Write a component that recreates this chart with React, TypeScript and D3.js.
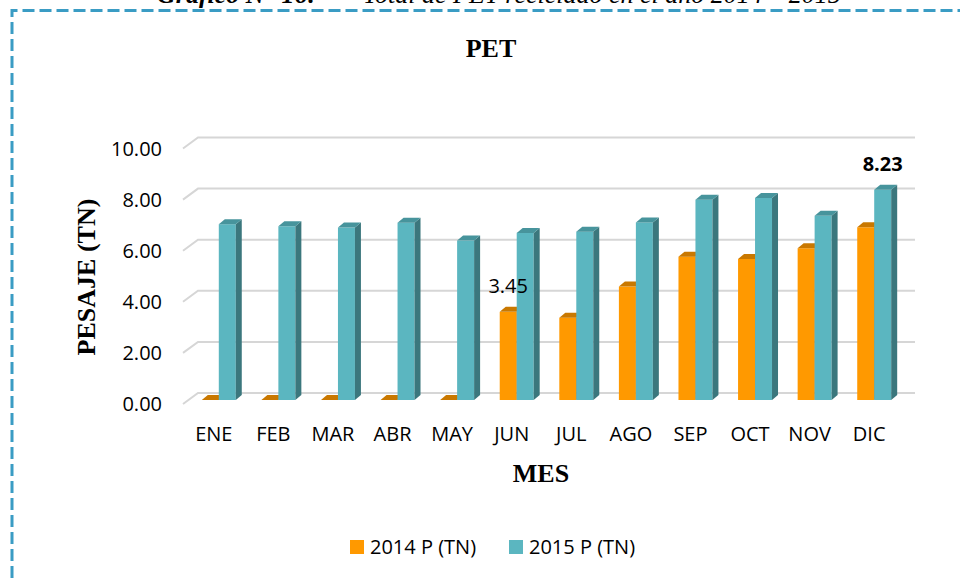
import React, { useEffect, useRef } from "react";
import * as d3 from "d3";

const WIDTH = 960;
const HEIGHT = 578;

const MONTHS = ["ENE", "FEB", "MAR", "ABR", "MAY", "JUN", "JUL", "AGO", "SEP", "OCT", "NOV", "DIC"];
const VALUES_2014 = [0, 0, 0, 0, 0, 3.45, 3.22, 4.44, 5.61, 5.52, 5.94, 6.76];
const VALUES_2015 = [6.88, 6.8, 6.75, 6.94, 6.24, 6.54, 6.59, 6.95, 7.84, 7.91, 7.21, 8.23];
const SERIES = ["2014 P (TN)", "2015 P (TN)"];
const Y_TICKS = [0, 2, 4, 6, 8, 10];
// data labels shown in the chart: series index + month
const LABELLED = [
  { series: 0, month: "JUN", bold: false },
  { series: 1, month: "DIC", bold: true },
];

const COLORS = [
  { front: "#ff9900", top: "#c97800", side: "#b06a00" },
  { front: "#5bb6c0", top: "#47949c", side: "#3b777d" },
];
const SANS = "'Open Sans', sans-serif";
const SERIF = "'Liberation Serif', 'Times New Roman', serif";

// 3d offsets
const BAR_DX = 6;
const BAR_DY = 5;
const WALL_DX = 15;
const WALL_DY = 11;
const WALL_BACK = 7; // back wall sits this far above the bar front plane

const App = () => {
  const svgRef = useRef<SVGSVGElement>(null);

  useEffect(() => {
    const svg = d3.select(svgRef.current);
    svg.selectAll("*").remove();

    const seriesValues = [VALUES_2014, VALUES_2015];

    const x = d3.scaleBand().domain(MONTHS).range([189, 904]).paddingInner(0.43).paddingOuter(0.215);
    const xs = d3.scaleBand().domain(["0", "1"]).range([0, x.bandwidth()]);
    const y = d3.scaleLinear().domain([0, 10]).range([400, 144.5]);

    // dashed frame
    svg
      .append("path")
      .attr("d", `M12,${HEIGHT} L12,10.5 L${WIDTH},10.5`)
      .attr("fill", "none")
      .attr("stroke", "#3a9cc4")
      .attr("stroke-width", 3)
      .attr("stroke-dasharray", "12 5");

    // caption (cut at top, as in the document page)
    const cap = svg.append("text").attr("y", 3).attr("font-family", SERIF).attr("font-size", 26).attr("font-style", "italic");
    cap.append("tspan").attr("x", 157).attr("font-weight", "bold").text("Gráfico N° 16:");
    cap.append("tspan").attr("x", 363).text("Total de PET reciclado en el año 2014 – 2015");

    svg
      .append("text")
      .attr("x", 491)
      .attr("y", 57)
      .attr("text-anchor", "middle")
      .attr("font-family", SERIF)
      .attr("font-weight", "bold")
      .attr("font-size", 26)
      .text("PET");

    // gridlines on back wall with slanted side segment
    const xLeft = 183;
    const xRight = 915;
    svg
      .append("g")
      .selectAll("path")
      .data(Y_TICKS)
      .join("path")
      .attr("d", (d) => {
        const yb = y(d) - WALL_BACK;
        return `M${xLeft},${yb + WALL_DY} L${xLeft + WALL_DX},${yb} L${xRight},${yb}`;
      })
      .attr("fill", "none")
      .attr("stroke", "#d6d6d6")
      .attr("stroke-width", 2);

    // y tick labels
    svg
      .append("g")
      .selectAll("text")
      .data(Y_TICKS)
      .join("text")
      .attr("x", 162)
      .attr("y", (d) => y(d) + 4)
      .attr("dy", "0.35em")
      .attr("text-anchor", "end")
      .attr("font-family", SANS)
      .attr("font-size", 20)
      .attr("fill", "#000")
      .text((d) => d3.format(".2f")(d));

    // bars
    const bars = svg.append("g");
    MONTHS.forEach((m, i) => {
      seriesValues.forEach((vals, s) => {
        const v = vals[i];
        const x0 = (x(m) as number) + (xs(String(s)) as number);
        const w = xs.bandwidth();
        const yt = y(v);
        const yb = y(0);
        const c = COLORS[s];
        const g = bars.append("g");
        if (v > 0) {
          g.append("rect").attr("x", x0).attr("y", yt).attr("width", w).attr("height", yb - yt).attr("fill", c.front);
          g.append("polygon")
            .attr("points", `${x0 + w},${yt} ${x0 + w + BAR_DX},${yt - BAR_DY} ${x0 + w + BAR_DX},${yb - BAR_DY} ${x0 + w},${yb}`)
            .attr("fill", c.side);
        }
        g.append("polygon")
          .attr("points", `${x0},${yt} ${x0 + BAR_DX},${yt - BAR_DY} ${x0 + w + BAR_DX},${yt - BAR_DY} ${x0 + w},${yt}`)
          .attr("fill", c.top);
      });
    });

    // data labels
    svg
      .append("g")
      .selectAll("text")
      .data(LABELLED)
      .join("text")
      .attr("x", (d) => (x(d.month) as number) + (xs(String(d.series)) as number) + xs.bandwidth() / 2)
      .attr("y", (d) => y(seriesValues[d.series][MONTHS.indexOf(d.month)]) - 18.5)
      .attr("text-anchor", "middle")
      .attr("font-family", SANS)
      .attr("font-size", 20)
      .attr("font-weight", (d) => (d.bold ? "bold" : "normal"))
      .text((d) => d3.format(".2f")(seriesValues[d.series][MONTHS.indexOf(d.month)]));

    // x labels
    svg
      .append("g")
      .selectAll("text")
      .data(MONTHS)
      .join("text")
      .attr("x", (d) => (x(d) as number) + x.bandwidth() / 2 - 5)
      .attr("y", 441)
      .attr("text-anchor", "middle")
      .attr("font-family", SANS)
      .attr("font-size", 20)
      .text((d) => d);

    svg
      .append("text")
      .attr("x", 541)
      .attr("y", 482)
      .attr("text-anchor", "middle")
      .attr("font-family", SERIF)
      .attr("font-weight", "bold")
      .attr("font-size", 26)
      .text("MES");

    svg
      .append("text")
      .attr("transform", "translate(95,277) rotate(-90)")
      .attr("text-anchor", "middle")
      .attr("font-family", SERIF)
      .attr("font-weight", "bold")
      .attr("font-size", 26)
      .text("PESAJE (TN)");

    // legend
    const legendX = [350, 509];
    const legend = svg.append("g");
    SERIES.forEach((name, s) => {
      legend.append("rect").attr("x", legendX[s]).attr("y", 540).attr("width", 14).attr("height", 14).attr("fill", COLORS[s].front);
      legend
        .append("text")
        .attr("x", legendX[s] + 20)
        .attr("y", 554)
        .attr("font-family", SANS)
        .attr("font-size", 20)
        .text(name);
    });
  }, []);

  return (
    <svg
      ref={svgRef}
      width={WIDTH}
      height={HEIGHT}
      style={{ position: "absolute", left: 0, top: 0, background: "#fff" }}
    />
  );
};

export default App;
